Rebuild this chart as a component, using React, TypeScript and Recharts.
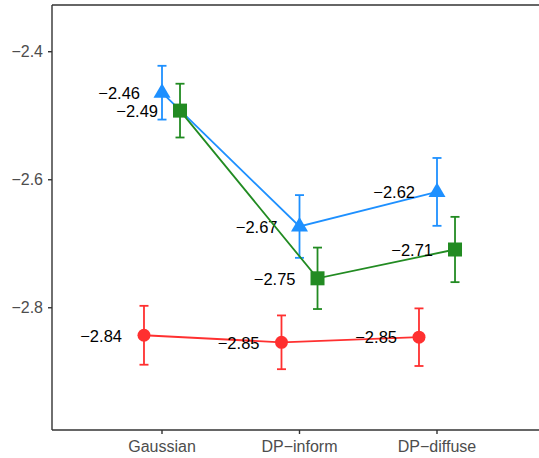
import React from 'react';
import {
  ComposedChart,
  Scatter,
  ErrorBar,
  XAxis,
  YAxis,
  ReferenceLine,
} from 'recharts';

const categories = ['Gaussian', 'DP\u2212inform', 'DP\u2212diffuse'];

const redMeans = [-2.843, -2.854, -2.846];
const redErrors = [0.046, 0.042, 0.045];

const blueMeans = [-2.464, -2.673, -2.619];
const blueErrors = [0.042, 0.049, 0.053];

const greenMeans = [-2.492, -2.754, -2.709];
const greenErrors = [0.042, 0.048, 0.051];

const yTicks = [-2.8, -2.6, -2.4];

const RED = '#FF3030';
const BLUE = '#1E90FF';
const GREEN = '#228B22';
const FONT = '"Liberation Sans", Arial, Helvetica, sans-serif';
const DODGE = 0.131;

const toPoints = (means: number[], errors: number[], offset: number) =>
  means.map((y, i) => ({ x: i + 1 + offset, y, err: errors[i] }));

const fmt = (v: number) => v.toFixed(2).replace('-', '\u2212');

const ValueText = ({ cx, cy, value }: { cx: number; cy: number; value: number }) => (
  <text
    x={cx - 22}
    y={cy}
    dy="0.38em"
    textAnchor="end"
    fontSize={16.5}
    fontFamily={FONT}
    fill="#000"
  >
    {fmt(value)}
  </text>
);

const CircleMark = (props: any) => {
  const { cx, cy, payload } = props;
  return (
    <g>
      <circle cx={cx} cy={cy} r={6.5} fill={RED} />
      <ValueText cx={cx} cy={cy} value={payload.y} />
    </g>
  );
};

const TriangleMark = (props: any) => {
  const { cx, cy, payload } = props;
  const pts = `${cx},${cy - 9.5} ${cx + 8.5},${cy + 5} ${cx - 8.5},${cy + 5}`;
  return (
    <g>
      <polygon points={pts} fill={BLUE} />
      <ValueText cx={cx} cy={cy} value={payload.y} />
    </g>
  );
};

const SquareMark = (props: any) => {
  const { cx, cy, payload } = props;
  return (
    <g>
      <rect x={cx - 7} y={cy - 7} width={14} height={14} fill={GREEN} />
      <ValueText cx={cx} cy={cy} value={payload.y} />
    </g>
  );
};

const axisTick = { fill: '#4D4D4D', fontSize: 16, fontFamily: FONT };

export default function App() {
  const red = toPoints(redMeans, redErrors, -DODGE);
  const blue = toPoints(blueMeans, blueErrors, 0);
  const green = toPoints(greenMeans, greenErrors, DODGE);

  return (
    <div
      style={{
        position: 'absolute',
        left: 0,
        top: 0,
        width: 539,
        height: 458,
        overflow: 'hidden',
        background: '#fff',
      }}
    >
      <ComposedChart
        width={560}
        height={458}
        margin={{ top: 5, right: 13, left: 0, bottom: 0 }}
      >
        <XAxis
          type="number"
          dataKey="x"
          domain={[0.2, 3.8]}
          ticks={[1, 2, 3]}
          tickFormatter={(v: number) => categories[Math.round(v) - 1]}
          allowDataOverflow
          height={28}
          tickSize={4}
          tickMargin={7}
          tick={axisTick}
          axisLine={{ stroke: '#333333', strokeWidth: 1.4 }}
          tickLine={{ stroke: '#333333', strokeWidth: 1.4 }}
        />
        <YAxis
          type="number"
          dataKey="y"
          domain={[-2.991, -2.327]}
          ticks={yTicks}
          tickFormatter={(v: number) => v.toFixed(1).replace('-', '\u2212')}
          allowDataOverflow
          width={52}
          tickSize={4}
          tickMargin={5}
          tick={axisTick}
          axisLine={{ stroke: '#333333', strokeWidth: 1.4 }}
          tickLine={{ stroke: '#333333', strokeWidth: 1.4 }}
        />
        <ReferenceLine y={-2.327} stroke="#333333" strokeWidth={1.4} ifOverflow="extendDomain" />
        <Scatter
          data={red}
          line={{ stroke: RED, strokeWidth: 1.8 }}
          lineType="joint"
          shape={CircleMark}
          fill={RED}
          isAnimationActive={false}
        >
          <ErrorBar dataKey="err" direction="y" width={4.5} stroke={RED} strokeWidth={1.8} />
        </Scatter>
        <Scatter
          data={blue}
          line={{ stroke: BLUE, strokeWidth: 1.8 }}
          lineType="joint"
          shape={TriangleMark}
          fill={BLUE}
          isAnimationActive={false}
        >
          <ErrorBar dataKey="err" direction="y" width={4.5} stroke={BLUE} strokeWidth={1.8} />
        </Scatter>
        <Scatter
          data={green}
          line={{ stroke: GREEN, strokeWidth: 1.8 }}
          lineType="joint"
          shape={SquareMark}
          fill={GREEN}
          isAnimationActive={false}
        >
          <ErrorBar dataKey="err" direction="y" width={4.5} stroke={GREEN} strokeWidth={1.8} />
        </Scatter>
      </ComposedChart>
    </div>
  );
}
